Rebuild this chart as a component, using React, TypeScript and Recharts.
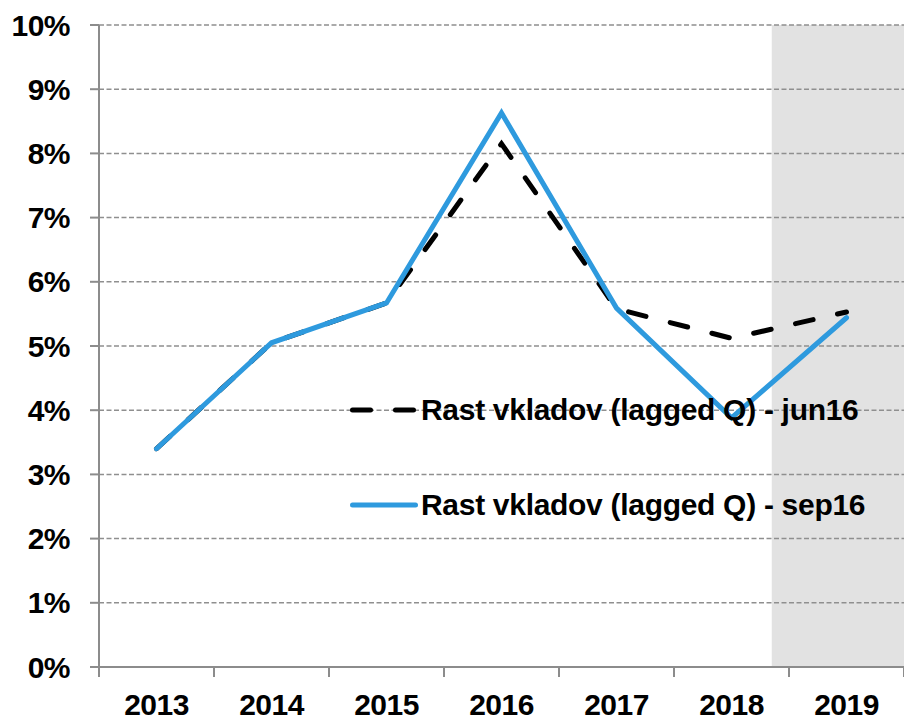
import React from "react";
import {
  LineChart,
  Line,
  XAxis,
  YAxis,
  ReferenceArea,
  ReferenceLine,
  Legend,
} from "recharts";

const years = [2013, 2014, 2015, 2016, 2017, 2018, 2019];
const jun16 = [3.4, 5.05, 5.67, 8.15, 5.58, 5.12, 5.53];
const sep16 = [3.4, 5.05, 5.67, 8.63, 5.59, 3.88, 5.44];
const yTicks = [0, 1, 2, 3, 4, 5, 6, 7, 8, 9, 10];
const seriesNames = [
  "Rast vkladov (lagged Q) - jun16",
  "Rast vkladov (lagged Q) - sep16",
];
const forecastStart = 2018.35;

const data = years.map((y, i) => ({ year: y, jun16: jun16[i], sep16: sep16[i] }));
const xTicks: number[] = [years[0] - 0.5];
years.forEach((y) => {
  xTicks.push(y);
  xTicks.push(y + 0.5);
});

const FONT = "'Liberation Sans', Arial, Helvetica, sans-serif";
const AXIS = "#8c8c8c";

const XTick = (props: any) => {
  const { x, y, payload } = props;
  const v = payload.value;
  if (!Number.isInteger(v)) {
    return <line x1={x} x2={x} y1={y - 10} y2={y} stroke={AXIS} strokeWidth={2} />;
  }
  return (
    <text
      x={x}
      y={y + 38}
      textAnchor="middle"
      fontFamily={FONT}
      fontWeight="bold"
      fontSize={30}
      letterSpacing={-0.5}
      fill="#000"
    >
      {v}
    </text>
  );
};

const LegendContent = (props: any) => {
  const items = props.payload || [];
  return (
    <div style={{ fontFamily: FONT }}>
      {items.map((it: any, i: number) => {
        const dash = it.payload?.strokeDasharray;
        return (
          <div
            key={i}
            style={{
              display: "flex",
              alignItems: "center",
              height: 48,
              marginBottom: i === 0 ? 47 : 0,
            }}
          >
            <svg width={68} height={12} style={{ marginRight: 3 }}>
              <line
                x1={2.5}
                x2={65.5}
                y1={6}
                y2={6}
                stroke={it.color}
                strokeWidth={5}
                strokeDasharray={dash}
                strokeLinecap="round"
              />
            </svg>
            <span
              style={{
                fontWeight: "bold",
                fontSize: 30,
                letterSpacing: -0.3,
                color: "#000",
                whiteSpace: "nowrap",
              }}
            >
              {it.value}
            </span>
          </div>
        );
      })}
    </div>
  );
};

export default function App() {
  return (
    <div style={{ position: "absolute", left: 0, top: 0 }}>
      <LineChart
        width={904}
        height={720}
        data={data}
        margin={{ top: 25, right: 0, bottom: 0, left: 0 }}
      >
        <ReferenceArea
          x1={forecastStart}
          x2={years[years.length - 1] + 0.5}
          y1={0}
          y2={10}
          fill="#e2e2e2"
          fillOpacity={1}
          stroke="none"
        />
        {yTicks.slice(1).map((t) => (
          <ReferenceLine
            key={t}
            y={t}
            stroke="#8f8f8f"
            strokeWidth={1.5}
            strokeDasharray="5 2.5"
          />
        ))}
        <XAxis
          dataKey="year"
          type="number"
          domain={[years[0] - 0.5, years[years.length - 1] + 0.5]}
          ticks={xTicks}
          interval={0}
          tick={<XTick />}
          tickLine={false}
          tickSize={10}
          tickMargin={0}
          height={53}
          axisLine={{ stroke: AXIS, strokeWidth: 2 }}
        />
        <YAxis
          domain={[0, 10]}
          ticks={yTicks}
          interval={0}
          width={99}
          tickSize={9}
          tickMargin={20}
          tickFormatter={(v: number) => `${v}%`}
          tick={{
            fontFamily: FONT,
            fontWeight: "bold",
            fontSize: 30,
            fill: "#000",
            letterSpacing: -0.5,
          }}
          tickLine={{ stroke: AXIS, strokeWidth: 2 }}
          axisLine={{ stroke: AXIS, strokeWidth: 2 }}
        />
        <Line
          dataKey="jun16"
          name={seriesNames[0]}
          stroke="#000"
          strokeWidth={5}
          strokeDasharray="18 25"
          strokeLinecap="round"
          strokeLinejoin="miter"
          dot={false}
          activeDot={false}
          isAnimationActive={false}
        />
        <Line
          dataKey="sep16"
          name={seriesNames[1]}
          stroke="#2e9ade"
          strokeWidth={5}
          strokeLinecap="round"
          strokeLinejoin="miter"
          dot={false}
          activeDot={false}
          isAnimationActive={false}
        />
        <Legend
          layout="vertical"
          align="center"
          verticalAlign="middle"
          content={<LegendContent />}
          wrapperStyle={{ left: 350, top: 386, width: 550, height: 143 }}
        />
      </LineChart>
    </div>
  );
}
